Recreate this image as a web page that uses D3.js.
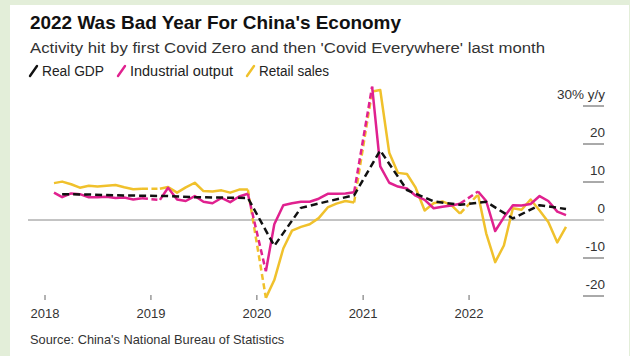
<!DOCTYPE html>
<html>
<head>
<meta charset="utf-8">
<script src="https://cdn.jsdelivr.net/npm/d3@7"></script>
<style>
  html, body { margin: 0; padding: 0; background: #e3eed9; }
  svg { display: block; font-family: "Liberation Sans", Arial, Helvetica, sans-serif; }
</style>
</head>
<body>
<script>
// Chinese activity indicators, % y/y. Jan-Feb figures are published combined and sit at February.
const years = [2018, 2019, 2020, 2021, 2022];
const months = ["02","03","04","05","06","07","08","09","10","11","12"];

const industrialOutput = [
  7.2, 6.0, 7.0, 6.8, 6.0, 6.0, 6.1, 5.8, 5.9, 5.4, 5.7,
  5.3, 8.5, 5.4, 5.0, 6.3, 4.8, 4.4, 5.8, 4.7, 6.2, 6.9,
  -13.5, -1.1, 3.9, 4.4, 4.8, 4.8, 5.6, 6.9, 6.9, 7.0, 7.3,
  35.1, 14.1, 9.8, 8.8, 8.3, 6.4, 5.3, 3.1, 3.5, 3.8, 4.3,
  7.5, 5.0, -2.9, 0.7, 3.9, 3.8, 4.2, 6.3, 5.0, 2.2, 1.3
];

const retailSales = [
  9.7, 10.1, 9.4, 8.5, 9.0, 8.8, 9.0, 9.2, 8.6, 8.1, 8.2,
  8.2, 8.7, 7.2, 8.6, 9.8, 7.6, 7.5, 7.8, 7.2, 8.0, 8.0,
  -20.5, -15.8, -7.5, -2.8, -1.8, -1.1, 0.5, 3.3, 4.3, 5.0, 4.6,
  33.8, 34.2, 17.7, 12.4, 12.1, 8.5, 2.5, 4.4, 4.9, 3.9, 1.7,
  6.7, -3.5, -11.1, -6.7, 3.1, 2.7, 5.4, 2.5, -0.5, -5.9, -1.8
];

const gdpQuarters = [
  "2018-03","2018-06","2018-09","2018-12",
  "2019-03","2019-06","2019-09","2019-12",
  "2020-03","2020-06","2020-09","2020-12",
  "2021-03","2021-06","2021-09","2021-12",
  "2022-03","2022-06","2022-09","2022-12"
];
const realGDP = [
  6.8, 6.7, 6.5, 6.4,
  6.3, 6.0, 5.9, 5.8,
  -6.8, 3.2, 4.9, 6.5,
  18.3, 7.9, 4.9, 4.0,
  4.8, 0.4, 3.9, 2.9
];

const yTicks = [30, 20, 10, 0, -10, -20];
const yTickLabels = ["30% y/y", "20", "10", "0", "-10", "-20"];
const xTickYears = [2018, 2019, 2020, 2021, 2022];

const title = "2022 Was Bad Year For China's Economy";
const subtitle = "Activity hit by first Covid Zero and then 'Covid Everywhere' last month";
const source = "Source: China's National Bureau of Statistics";

const colors = { gdp: "#111111", industrial: "#e0218f", retail: "#f0c12c" };
const legendItems = [
  { label: "Real GDP", color: colors.gdp },
  { label: "Industrial output", color: colors.industrial },
  { label: "Retail sales", color: colors.retail }
];

const W = 630, H = 356;
const parse = d3.timeParse("%Y-%m");

const svg = d3.select("body").append("svg").attr("width", W).attr("height", H);

// white card on the pale green page
svg.append("rect").attr("x", 10).attr("y", 5).attr("width", 619).attr("height", H - 5).attr("fill", "#ffffff");

const x = d3.scaleTime()
  .domain([new Date(2018, 0, 1), new Date(2023, 0, 1)])
  .range([45, 575]);
const y = d3.scaleLinear().domain([-20, 30]).range([296, 106]);

// headings
svg.append("text").attr("x", 30).attr("y", 29)
  .attr("font-size", 19).attr("font-weight", "bold").attr("fill", "#111")
  .attr("textLength", 371).attr("lengthAdjust", "spacingAndGlyphs").text(title);
svg.append("text").attr("x", 30).attr("y", 53)
  .attr("font-size", 15.5).attr("fill", "#333")
  .attr("textLength", 515).attr("lengthAdjust", "spacingAndGlyphs").text(subtitle);

// legend with slash swatches
const legend = svg.append("g");
const legendWidths = [62, 103, 70];
let lx = 30;
legendItems.forEach((item, i) => {
  legend.append("line")
    .attr("x1", lx).attr("y1", 76).attr("x2", lx + 7).attr("y2", 66)
    .attr("stroke", item.color).attr("stroke-width", 2.4).attr("stroke-linecap", "round");
  legend.append("text").attr("x", lx + 12).attr("y", 76)
    .attr("font-size", 14).attr("fill", "#222")
    .attr("textLength", legendWidths[i]).attr("lengthAdjust", "spacingAndGlyphs")
    .text(item.label);
  lx += 12 + legendWidths[i] + 14;
});

// y axis: right-hand labels above short rules
const yAxis = svg.append("g");
yTicks.forEach((v, i) => {
  if (v !== 0) {
    yAxis.append("line").attr("x1", 583).attr("x2", 604)
      .attr("y1", y(v)).attr("y2", y(v)).attr("stroke", "#555").attr("stroke-width", 1);
  }
  yAxis.append("text").attr("x", 605).attr("y", y(v) - 7)
    .attr("text-anchor", "end").attr("font-size", 13.5).attr("fill", "#333")
    .text(yTickLabels[i]);
});

// zero baseline
svg.append("line").attr("x1", 28).attr("x2", 604)
  .attr("y1", y(0)).attr("y2", y(0)).attr("stroke", "#888").attr("stroke-width", 1);

// x axis: year ticks and labels
const xAxis = svg.append("g");
xTickYears.forEach(yr => {
  const px = x(new Date(yr, 0, 1));
  xAxis.append("line").attr("x1", px).attr("x2", px).attr("y1", 295).attr("y2", 300)
    .attr("stroke", "#666").attr("stroke-width", 1);
  xAxis.append("text").attr("x", px).attr("y", 318).attr("text-anchor", "middle")
    .attr("font-size", 13).attr("fill", "#333").text(yr);
});

const line = d3.line().x(d => x(d.date)).y(d => y(d.value));

// monthly series: solid within each year, dashed across the missing January
function drawMonthly(values, color) {
  const pts = [];
  years.forEach((yr, yi) => months.forEach((m, mi) => {
    pts.push({ date: parse(yr + "-" + m), value: values[yi * months.length + mi], year: yr });
  }));
  const g = svg.append("g");
  years.forEach((yr, yi) => {
    const seg = pts.filter(p => p.year === yr);
    g.append("path").datum(seg).attr("d", line)
      .attr("fill", "none").attr("stroke", color).attr("stroke-width", 2.5)
      .attr("stroke-linejoin", "round");
    if (yi > 0) {
      const prev = pts.filter(p => p.year === years[yi - 1]);
      g.append("path").datum([prev[prev.length - 1], seg[0]]).attr("d", line)
        .attr("fill", "none").attr("stroke", color).attr("stroke-width", 2.5)
        .attr("stroke-dasharray", "6,3.5");
    }
  });
}

drawMonthly(retailSales, colors.retail);
drawMonthly(industrialOutput, colors.industrial);

// quarterly GDP as a dashed line
const gdpPts = gdpQuarters.map((q, i) => ({ date: parse(q), value: realGDP[i] }));
svg.append("path").datum(gdpPts).attr("d", line)
  .attr("fill", "none").attr("stroke", colors.gdp).attr("stroke-width", 2.5)
  .attr("stroke-dasharray", "7,4").attr("stroke-linejoin", "round");

// source note
svg.append("text").attr("x", 30).attr("y", 344)
  .attr("font-size", 12.8).attr("fill", "#333").text(source);
</script>
</body>
</html>
